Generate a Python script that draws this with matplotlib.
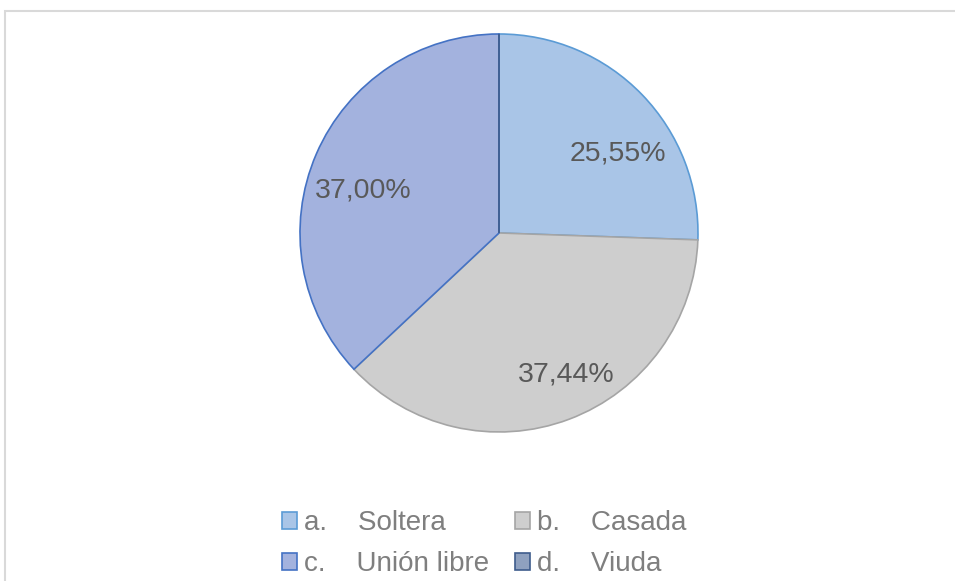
import matplotlib
matplotlib.use("Agg")
import matplotlib.pyplot as plt
from matplotlib.patches import Rectangle, Patch

categories = ["a.    Soltera", "b.    Casada", "c.    Unión libre", "d.    Viuda"]
values = [25.55, 37.44, 37.00, 0.0]
fill_colors = ["#A9C5E7", "#CECECE", "#A3B2DE", "#8FA1BF"]
edge_colors = ["#5B9BD5", "#A5A5A5", "#4472C4", "#3E5C8C"]
# small nudges of the data labels (Excel best-fit placement)
label_nudges = [(0.07, -0.11), (0.08, -0.03), (-0.01, -0.075), (0, 0)]

plt.rcParams["font.family"] = ["Liberation Sans", "DejaVu Sans"]


def pct_label(p):
    if p < 0.5:
        return ""
    return f"{p:.2f}%".replace(".", ",")


fig = plt.figure(figsize=(9.55, 5.81), dpi=100)

# chart area border
fig.patches.append(Rectangle((5 / 955, -0.1), 1.1, 1.1 - 11 / 581,
                             transform=fig.transFigure, fill=False,
                             edgecolor="#D9D9D9", linewidth=1.5))

ax = fig.add_axes([0.5225 - 0.2084, 0.599 - 0.3425, 0.4168, 0.685])
wedges, texts, autotexts = ax.pie(values, colors=fill_colors, startangle=90,
                                  counterclock=False, autopct=pct_label,
                                  pctdistance=0.73,
                                  wedgeprops=dict(linewidth=1.2),
                                  textprops=dict(fontsize=20.5, color="#595959"))
for w, ec in zip(wedges, edge_colors):
    w.set_edgecolor(ec)
for t, (dx, dy) in zip(autotexts, label_nudges):
    x, y = t.get_position()
    t.set_position((x + dx, y + dy))
ax.set_xlim(-1.0, 1.0)
ax.set_ylim(-1.0, 1.0)
ax.set_aspect("equal")

handles = [Patch(facecolor=f, edgecolor=e, linewidth=1.2)
           for f, e in zip(fill_colors, edge_colors)]
# legend fills row by row: a b / c d
order = [0, 2, 1, 3]
fig.legend([handles[i] for i in order], [categories[i] for i in order],
           ncol=2, loc="center",
           bbox_to_anchor=(0.5069, 0.064), frameon=False,
           fontsize=20, labelcolor="#7F7F7F",
           handlelength=0.55, handleheight=0.55, handletextpad=0.25,
           columnspacing=0.92, labelspacing=0.55)

fig.savefig("out.png", dpi=100)
